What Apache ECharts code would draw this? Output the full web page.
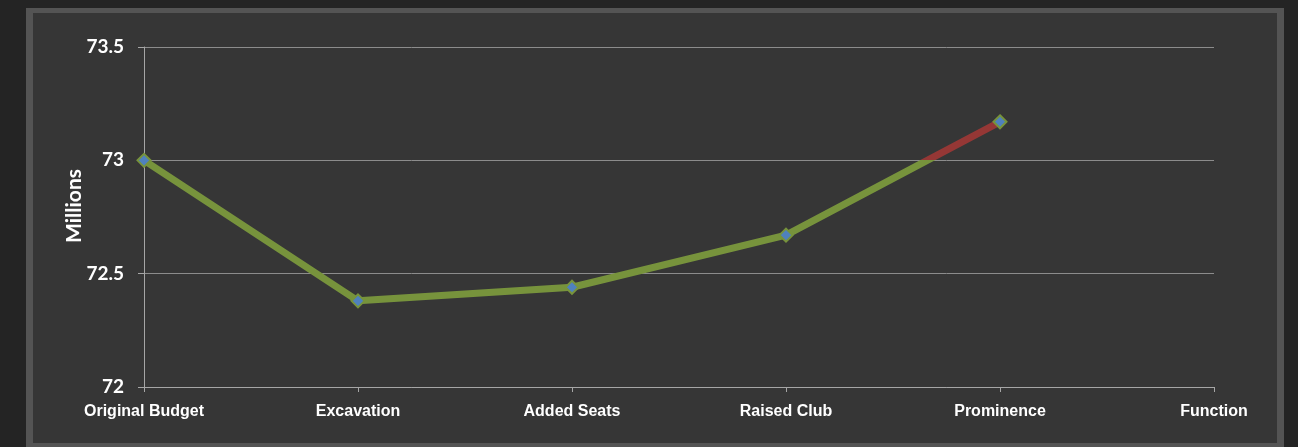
<!DOCTYPE html>
<html>
<head>
<meta charset="utf-8">
<script src="https://cdn.jsdelivr.net/npm/echarts@6/dist/echarts.min.js"></script>
<style>html,body{margin:0;padding:0;background:#242424;}#c{width:1298px;height:447px;}</style>
</head>
<body>
<div id="c"></div>
<script>
const categories = ['Original Budget', 'Excavation', 'Added Seats', 'Raised Club', 'Prominence', 'Function'];
const budgetValues = [73.0, 72.38, 72.44, 72.67, 73.17];
const yTicks = { min: 72, max: 73.5, interval: 0.5 };
const threshold = 73;

const chart = echarts.init(document.getElementById('c'), null, { renderer: 'canvas' });
chart.setOption({
  backgroundColor: '#242424',
  animation: false,
  graphic: [
    { type: 'rect', z: -10, silent: true, shape: { x: 26, y: 8, width: 1258, height: 439 }, style: { fill: '#545454' } },
    { type: 'rect', z: -9, silent: true, shape: { x: 33, y: 13, width: 1244, height: 430 }, style: { fill: '#363636' } }
  ],
  grid: { left: 144, right: 84, top: 47, bottom: 60, containLabel: false },
  xAxis: {
    type: 'category',
    data: categories,
    boundaryGap: false,
    axisLine: { lineStyle: { color: '#a6a6a6', width: 1 } },
    axisTick: { show: true, length: 5, lineStyle: { color: '#a6a6a6' } },
    axisLabel: { color: '#ffffff', fontFamily: 'Liberation Sans', fontWeight: 'bold', fontSize: 16, margin: 17, interval: 0 },
    splitLine: { show: false }
  },
  yAxis: {
    type: 'value',
    min: yTicks.min, max: yTicks.max, interval: yTicks.interval,
    name: 'Millions',
    nameLocation: 'middle',
    nameGap: 59,
    nameMoveOverlap: false,
    nameRotate: 90,
    nameTextStyle: { color: '#ffffff', fontFamily: 'Lato', fontWeight: 'bold', fontSize: 21, padding: [0, 0, 0, 22] },
    axisLine: { show: true, lineStyle: { color: '#a6a6a6', width: 1 } },
    axisTick: { show: true, length: 6, lineStyle: { color: '#a6a6a6' } },
    axisLabel: { color: '#ffffff', fontFamily: 'Lato', fontWeight: 'bold', fontSize: 19, margin: 20 },
    splitLine: { show: true, lineStyle: { color: '#8c8c8c', width: 1 } }
  },
  visualMap: {
    show: false,
    type: 'piecewise',
    seriesIndex: 1,
    dimension: 1,
    pieces: [
      { gte: 60, lte: threshold, color: '#77933C' },
      { gt: threshold, lte: 90, color: '#953735' }
    ],
    outOfRange: { color: '#77933C' }
  },
  series: [
    {
      type: 'line',
      data: budgetValues,
      z: 3,
      symbol: 'diamond',
      symbolSize: 13,
      showAllSymbol: true,
      lineStyle: { opacity: 0 },
      itemStyle: { color: '#4F81BD', borderColor: '#77933C', borderWidth: 2 }
    },
    {
      type: 'line',
      data: budgetValues,
      z: 2,
      showSymbol: false,
      lineStyle: { width: 7 }
    }
  ]
});
</script>
</body>
</html>
